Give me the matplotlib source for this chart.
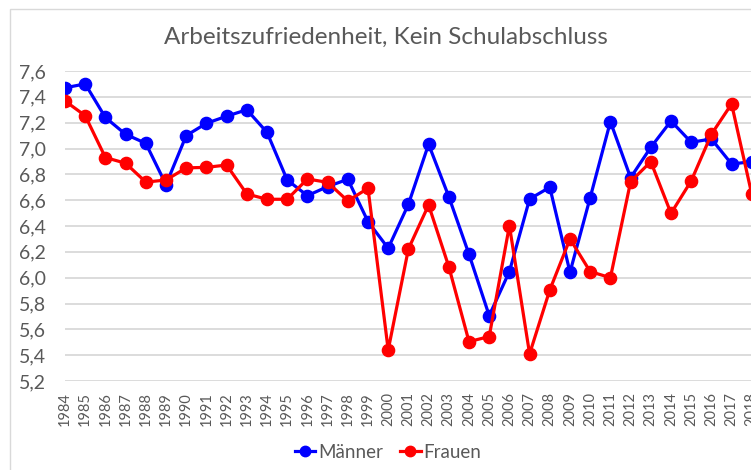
import numpy as np
import matplotlib
matplotlib.use("Agg")
import matplotlib.pyplot as plt
from matplotlib.patches import Rectangle
from matplotlib.ticker import FuncFormatter

plt.rcParams['font.family'] = ['Lato', 'DejaVu Sans']

# ---Data---
years = list(range(1984, 2019))
maenner = [7.47, 7.50, 7.24, 7.11, 7.04, 6.72, 7.10, 7.195, 7.25, 7.30,
           7.125, 6.756, 6.635, 6.705, 6.762, 6.434, 6.228, 6.568, 7.033, 6.627,
           6.181, 5.706, 6.047, 6.609, 6.70, 6.042, 6.62, 7.208, 6.774, 7.009,
           7.213, 7.048, 7.074, 6.88, 6.898]
frauen = [7.368, 7.254, 6.93, 6.886, 6.74, 6.756, 6.85, 6.854, 6.872, 6.648,
          6.607, 6.607, 6.764, 6.738, 6.594, 6.692, 5.44, 6.222, 6.563, 6.085,
          5.505, 5.544, 6.403, 5.41, 5.905, 6.30, 6.047, 6.00, 6.743, 6.898,
          6.498, 6.749, 7.11, 7.345, 6.645]
yticks = np.round(np.arange(5.2, 7.61, 0.2), 1)

gray = '#595959'
grid = '#d9d9d9'

fig = plt.figure(figsize=(7.51, 4.70), dpi=100)
# axes run past the right edge: the reference is cut off there
ax = fig.add_axes([65 / 751, 1 - 381 / 470, 36 * 20.2 / 751, 310 / 470])

ax.plot(years, maenner, color='#0000ff', lw=2.3, marker='o', ms=8.8, label='Männer')
ax.plot(years, frauen, color='#ff0000', lw=2.3, marker='o', ms=8.8, label='Frauen')

ax.set_xlim(1984, 2020)
ax.set_ylim(5.2, 7.6)
ax.set_yticks(yticks)
ax.yaxis.set_major_formatter(FuncFormatter(lambda v, p: f"{v:.1f}".replace('.', ',')))
ax.set_xticks(years)
ax.set_xticklabels([str(y) for y in years], rotation=90, fontsize=10.5, color=gray)
ax.tick_params(axis='y', length=0, pad=14, labelsize=14, labelcolor=gray)
ax.tick_params(axis='x', length=0, pad=8)
ax.grid(axis='y', color=grid, lw=1.3)
ax.set_axisbelow(True)
for s in ax.spines.values():
    s.set_visible(False)

fig.text(386 / 751, 1 - 37 / 470, 'Arbeitszufriedenheit, Kein Schulabschluss',
         ha='center', va='center', fontsize=17.5, color=gray)

fig.legend(loc='center', bbox_to_anchor=(388 / 751, 1 - 452 / 470), ncol=2, frameon=False,
           fontsize=13.5, labelcolor=gray, handlelength=1.1, handletextpad=0.15,
           columnspacing=0.9, markerscale=0.85)

fig.patches.append(Rectangle((9.5 / 751, -0.1), 1.2, 0.1 + 1 - 9.5 / 470,
                             transform=fig.transFigure, fill=False, edgecolor=grid, lw=1))

fig.savefig('out.png', dpi=100)
